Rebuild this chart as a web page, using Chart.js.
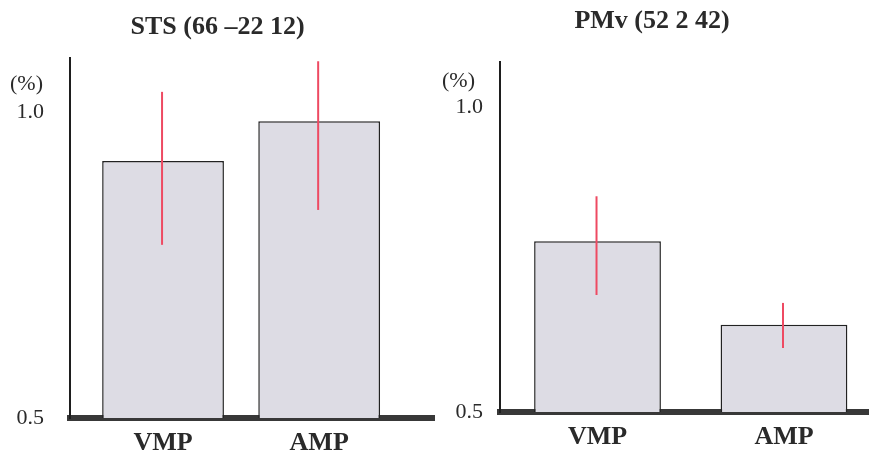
<!DOCTYPE html>
<html>
<head>
<meta charset="utf-8">
<script src="https://cdn.jsdelivr.net/npm/chart.js@4.4.1/dist/chart.umd.min.js"></script>
<style>
  body { margin: 0; background: #fff; }
  #wrap { position: relative; width: 869px; height: 467px; }
  canvas { position: absolute; top: 0; }
</style>
</head>
<body>
<div id="wrap">
  <canvas id="sts" width="435" height="467" style="left:0"></canvas>
  <canvas id="pmv" width="434" height="467" style="left:435px"></canvas>
</div>
<script>
// data
var categories = ['VMP', 'AMP'];
var yTicks = [0.5, 1.0];

var stsTitle = 'STS (66 \u201322 12)';
var stsValues = [0.92, 0.985];
var stsLow = [0.783, 0.84];
var stsHigh = [1.033, 1.083];

var pmvTitle = 'PMv (52 2 42)';
var pmvValues = [0.78, 0.643];
var pmvLow = [0.692, 0.605];
var pmvHigh = [0.854, 0.679];

var serif = "'Liberation Serif', 'Times New Roman', serif";

// red error lines over each bar
var errorBars = {
  id: 'errorBars',
  afterDatasetsDraw: function(chart, args, opts) {
    var ctx = chart.ctx, y = chart.scales.y;
    var meta = chart.getDatasetMeta(0);
    ctx.save();
    ctx.strokeStyle = '#ee4a62';
    ctx.lineWidth = 2;
    meta.data.forEach(function(bar, i) {
      ctx.beginPath();
      ctx.moveTo(bar.x - 1, y.getPixelForValue(opts.low[i]));
      ctx.lineTo(bar.x - 1, y.getPixelForValue(opts.high[i]));
      ctx.stroke();
    });
    ctx.restore();
  }
};

// "(%)" unit above the top tick
var unitLabel = {
  id: 'unitLabel',
  afterDraw: function(chart, args, opts) {
    var ctx = chart.ctx, y = chart.scales.y;
    ctx.save();
    ctx.font = '22px ' + serif;
    ctx.fillStyle = '#2a2a2a';
    ctx.textAlign = 'right';
    ctx.textBaseline = 'middle';
    ctx.fillText('(%)', y.right - opts.gap, y.getPixelForValue(1.0) - opts.rise);
    ctx.restore();
  }
};

function makePanel(id, title, values, low, high, o) {
  return new Chart(document.getElementById(id), {
    type: 'bar',
    data: {
      datasets: [{
        data: values.map(function(v, i) { return { x: i + 1, y: v }; }),
        backgroundColor: '#dddce4',
        borderColor: '#222',
        borderWidth: 1.5,
        barPercentage: o.barPct,
        categoryPercentage: 1
      }]
    },
    options: {
      responsive: false,
      animation: false,
      events: [],
      layout: { padding: 0 },
      plugins: {
        legend: { display: false },
        tooltip: { enabled: false },
        title: {
          display: true,
          text: title,
          color: '#2a2a2a',
          font: { family: serif, size: 26, weight: 'bold' },
          padding: { top: o.titleTop, bottom: o.titleBottom }
        },
        errorBars: { low: low, high: high },
        unitLabel: { gap: o.unitGap, rise: o.unitRise }
      },
      scales: {
        x: {
          type: 'linear',
          z: 1,
          offset: false,
          bounds: 'data',
          min: o.xMin,
          max: o.xMax,
          grid: { display: false, drawTicks: false, offset: false },
          border: { display: true, color: '#383838', width: 6 },
          afterBuildTicks: function(s) { s.ticks = categories.map(function(c, i) { return { value: i + 1 }; }); },
          afterFit: function(s) { s.height = o.xHeight; },
          ticks: {
            autoSkip: false,
            maxRotation: 0,
            padding: o.xPad,
            color: '#2a2a2a',
            font: { family: serif, size: 26, weight: 'bold' },
            callback: function(v) { return categories[v - 1]; }
          }
        },
        y: {
          min: 0.5,
          max: o.yMax,
          grid: { display: false, drawTicks: false },
          border: { display: true, color: '#1e1e1e', width: 2 },
          afterBuildTicks: function(s) { s.ticks = yTicks.map(function(v) { return { value: v }; }); },
          afterFit: function(s) { s.width = o.yWidth; },
          ticks: {
            padding: o.yPad,
            color: '#2a2a2a',
            font: { family: serif, size: 22 },
            callback: function(v) { return v.toFixed(1); }
          }
        }
      }
    },
    plugins: [errorBars, unitLabel]
  });
}

makePanel('sts', stsTitle, stsValues, stsLow, stsHigh, {
  titleTop: 12, titleBottom: 15, yMax: 1.088, xMin: 0.404, xMax: 2.742,
  barPct: 0.78, xHeight: 49, xPad: 10, yWidth: 70, yPad: 26, unitGap: 27, unitRise: 28
});

makePanel('pmv', pmvTitle, pmvValues, pmvLow, pmvHigh, {
  titleTop: 6, titleBottom: 25, yMax: 1.074, xMin: 0.477, xMax: 2.456,
  barPct: 0.68, xHeight: 55, xPad: 10, yWidth: 65, yPad: 17, unitGap: 25, unitRise: 26
});
</script>
</body>
</html>
